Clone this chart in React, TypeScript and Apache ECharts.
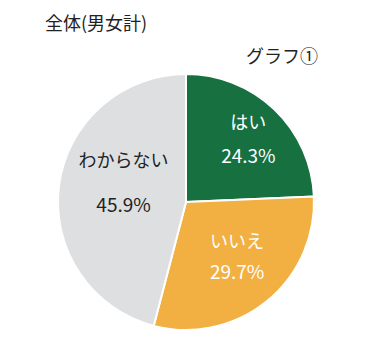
import React, { useEffect, useRef } from "react";
import * as echarts from "echarts";

const categories = ["はい", "いいえ", "わからない"];
const values = [24.3, 29.7, 45.9];
const colors = ["#16703f", "#f2b042", "#dddfe1"];
const labelColors = ["#ffffff", "#ffffff", "#222222"];
const labelOffsets = [[16, -16], [9, 1], [4, -12]];
const labelGaps = [33, 30, 45];

const FONT = '"Noto Sans CJK JP", "Noto Sans", sans-serif';

export default function App() {
  const ref = useRef<HTMLDivElement>(null);
  useEffect(() => {
    document.body.style.margin = "0";
    const chart = echarts.init(ref.current!, null, { renderer: "svg" });
    chart.setOption({
      animation: false,
      backgroundColor: "#ffffff",
      graphic: [
        {
          type: "text",
          left: 45,
          top: 13,
          style: { text: "全体(男女計)", fontSize: 18, fontFamily: FONT, fill: "#222222" },
        },
        {
          type: "text",
          left: 246,
          top: 46,
          style: { text: "グラフ①", fontSize: 18, fontFamily: FONT, fill: "#222222" },
        },
      ],
      series: [
        {
          type: "pie",
          center: [186, 202],
          radius: [0, 128],
          startAngle: 90,
          clockwise: true,
          silent: true,
          itemStyle: { borderColor: "#ffffff", borderWidth: 2 },
          labelLine: { show: false },
          data: categories.map((name, i) => ({
            name,
            value: values[i],
            itemStyle: { color: colors[i] },
            label: {
              show: true,
              position: "inside",
              offset: labelOffsets[i],
              formatter: "{n|{b}}\n{v|{c}%}",
              rich: {
                n: { fontSize: 18, fontFamily: FONT, color: labelColors[i], lineHeight: labelGaps[i], align: "center" },
                v: { fontSize: 19, fontFamily: FONT, color: labelColors[i], lineHeight: labelGaps[i], align: "center" },
              },
            },
          })),
        },
      ],
    });
    return () => chart.dispose();
  }, []);
  return <div ref={ref} style={{ width: 366, height: 356 }} />;
}
